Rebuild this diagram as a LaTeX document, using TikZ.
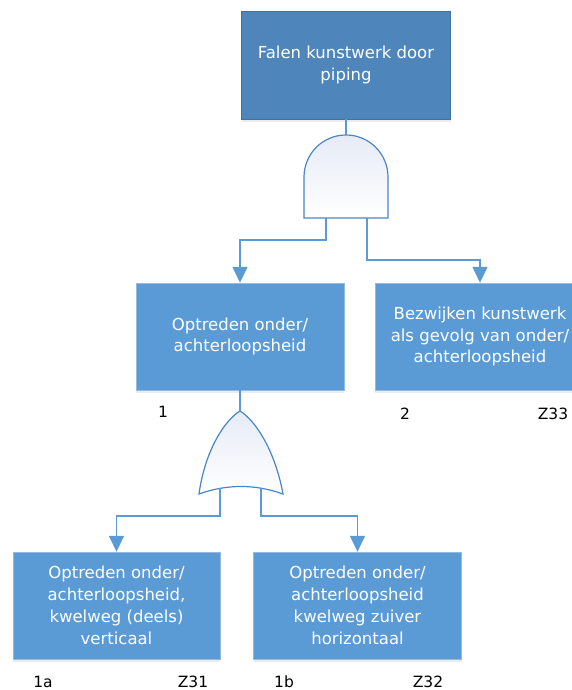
\documentclass[tikz,border=0pt]{standalone}
\usepackage{fontspec}
\setmainfont{DejaVu Sans}
\usetikzlibrary{arrows.meta,shadows}
\definecolor{topblue}{RGB}{78,134,188}
\definecolor{topedge}{RGB}{65,113,156}
\definecolor{boxblue}{RGB}{91,155,213}
\definecolor{boxedge}{RGB}{150,185,220}
\definecolor{wireblue}{RGB}{91,155,213}
\definecolor{gateedge}{RGB}{74,134,197}
\definecolor{gatefill}{RGB}{230,235,246}

\begin{document}
\begin{tikzpicture}[x=1pt,y=1pt]
\tikzstyle{event}=[draw=boxedge,fill=boxblue,text=white,minimum width=208pt,minimum height=107pt,inner sep=0pt,align=center,font=\fontsize{16.5}{21.8}\selectfont,drop shadow={shadow xshift=0pt,shadow yshift=-3pt,opacity=0.15}]
\tikzstyle{tag}=[font=\fontsize{15.5}{18}\selectfont]
\tikzstyle{wire}=[draw=wireblue,line width=1.5pt]
\tikzstyle{arr}=[wire,-{Triangle[length=16pt,width=15pt]}]
\tikzstyle{gate}=[draw=gateedge,line width=1.2pt,top color=gatefill,bottom color=white]
\useasboundingbox (0,0) rectangle (572,690);
% events
\path (346,625) node[event,fill=topblue,draw=topedge,minimum width=209pt,minimum height=108pt](top){Falen kunstwerk door\\piping}
      (240,353.5) node[event](e1){Optreden onder/\\achterloopsheid}
      (480,353.5) node[event,minimum width=210pt](e2){Bezwijken kunstwerk\\als gevolg van onder/\\achterloopsheid}
      (116.5,84.5) node[event,minimum width=207pt](e1a){Optreden onder/\\achterloopsheid,\\kwelweg (deels)\\verticaal}
      (357.5,84.5) node[event](e1b){Optreden onder/\\achterloopsheid\\kwelweg zuiver\\horizontaal};
% numbers
\node[tag] (n1) at (163,278) {1};
\node[tag] (n2) at (405,276) {2};
\node[tag] (z33) at (553,276) {Z33};
\node[tag] (n1a) at (43,8) {1a};
\node[tag] (z31) at (193,8) {Z31};
\node[tag] (n1b) at (284,8) {1b};
\node[tag] (z32) at (428,8) {Z32};
% and gate
\coordinate (g1t) at (346,555);
\coordinate (g1l) at (326,472);
\coordinate (g1r) at (367,472);
\draw[gate] (304,472) -- (304,513) arc (180:0:42) -- (388,472) -- cycle;
% or gate
\coordinate (g2t) at (240,279);
\coordinate (g2l) at (220,202);
\coordinate (g2r) at (261,202);
\draw[gate] (199,196) .. controls (205,240) and (225,270) .. (g2t)
  .. controls (255,270) and (275,240) .. (283,196)
  .. controls (255,206) and (227,206) .. cycle;
% wires
\draw[wire] (top) -- (g1t);
\draw[arr] (g1l) -- ++(0,-22) -| (e1.north);
\draw[arr] (g1r) -- ++(0,-42) -| (e2.north);
\draw[wire] (e1) -- (g2t);
\draw[arr] (g2l) -- ++(0,-28) -| (e1a.north);
\draw[arr] (g2r) -- ++(0,-28) -| (e1b.north);
\end{tikzpicture}
\end{document}
